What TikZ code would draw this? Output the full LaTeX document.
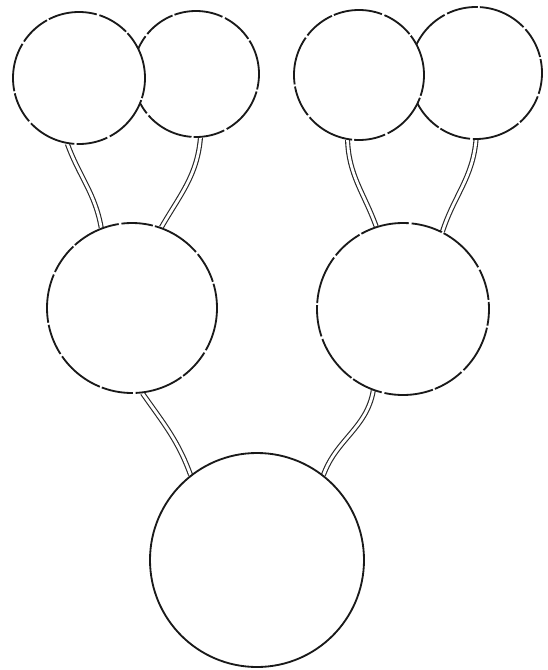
\documentclass[tikz,border=0pt]{standalone}
\usepackage{tikz}
\usetikzlibrary{backgrounds}

\begin{document}
\begin{tikzpicture}[x=0.05cm,y=-0.05cm,
    cell/.style={circle, draw=black!90, fill=white, line width=2.6pt, inner sep=0pt, minimum size=#1*0.1cm},
    worn/.style={dash pattern=on 70pt off 3pt on 45pt off 4pt},
    stalk/.style={draw=black!85, line width=1.6pt, double=white, double distance=4pt}]
  \useasboundingbox (0,0) rectangle (548,670);

  % top row, back circles first
  \node[cell=63, worn, dash phase=20pt] (leafLR) at (196,74) {};
  \node[cell=66, worn] (leafLL) at (79,78) {};
  \node[cell=66, worn, dash phase=50pt] (leafRR) at (476,73) {};
  \node[cell=65, worn, dash phase=10pt] (leafRL) at (359,75) {};

  % middle row
  \node[cell=85, worn, dash phase=35pt] (midL) at (132,308) {};
  \node[cell=86, worn, dash phase=60pt] (midR) at (403,309) {};

  % root
  \node[cell=107] (root) at (257,560) {};

  \begin{scope}[on background layer]
    \fill[white] (0,0) rectangle (548,670);
    \draw[stalk] (leafLL.-100) to[out=-70, in=100] (midL.111);
    \draw[stalk] (leafLR.-86) to[out=-95, in=60] (midL.70);
    \draw[stalk] (leafRL.-100) to[out=-88, in=110] (midR.108);
    \draw[stalk] (leafRR.-90) to[out=-95, in=72] (midR.63);
    \draw[stalk] (midL.-83) to[out=-55, in=110] (root.128);
    \draw[stalk] (midR.-110) to[out=-100, in=70] (root.52);
  \end{scope}
\end{tikzpicture}
\end{document}
